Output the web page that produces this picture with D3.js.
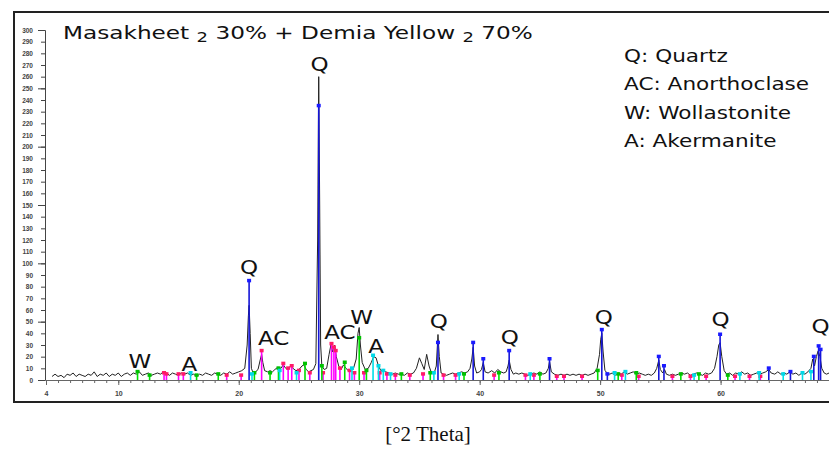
<!DOCTYPE html>
<html>
<head>
<meta charset="utf-8">
<script src="https://cdn.jsdelivr.net/npm/d3@7"></script>
<style>
  html, body { margin: 0; padding: 0; background: #fff; }
</style>
</head>
<body>
<div id="chart"></div>
<script>
// measured profile: [°2θ, counts]
const profile = [
  [4.5,3],[4.75,5],[5,3],[5.25,4],[5.5,2],[5.75,5],[6,4],[6.25,6],[6.5,3],[6.75,5],
  [7,4],[7.25,3],[7.5,5],[7.75,4],[8,7],[8.25,3],[8.5,5],[8.75,4],[9,6],[9.25,3],
  [9.5,5],[9.75,4],[10,6],[10.25,3],[10.5,5],[10.75,6],[11,4],[11.25,6],[11.5,5],[11.75,7],
  [12,4],[12.25,5],[12.5,6],[12.75,4],[13,5],[13.25,6],[13.5,5],[13.75,7],[14,6],[14.25,4],
  [14.5,6],[14.75,5],[15,4],[15.25,6],[15.5,5],[15.75,6],[16,4],[16.25,5],[16.5,3],[16.75,5],
  [17,4],[17.25,6],[17.5,5],[17.75,4],[18,6],[18.25,5],[18.5,4],[18.75,6],[19,5],[19.25,7],
  [19.5,5],[19.75,6],[20,7],[20.25,8],[20.5,10],[20.7,30],[20.8,55],[20.86,64],[20.95,40],[21.05,10],
  [21.2,6],[21.4,7],[21.6,9],[21.8,18],[21.9,22],[22,15],[22.15,8],[22.4,7],[22.6,8],[22.8,7],
  [23,9],[23.25,11],[23.5,10],[23.7,13],[23.9,10],[24.1,9],[24.3,12],[24.5,10],[24.75,8],[25,9],
  [25.25,12],[25.4,13],[25.6,9],[25.8,7],[26,8],[26.2,9],[26.4,14],[26.55,120],[26.64,260],[26.72,150],
  [26.8,30],[26.9,12],[27.1,9],[27.3,10],[27.5,22],[27.65,30],[27.8,24],[27.95,30],[28.1,20],[28.3,12],
  [28.5,9],[28.7,13],[28.9,10],[29.1,8],[29.3,10],[29.5,9],[29.75,18],[29.9,40],[30,45],[30.1,30],
  [30.25,15],[30.5,9],[30.75,10],[31,15],[31.2,20],[31.4,19],[31.6,12],[31.8,8],[32,9],[32.2,7],
  [32.5,6],[32.75,5],[33,6],[33.25,5],[33.5,5],[33.75,4],[34,6],[34.25,5],[34.5,6],[34.75,10],
  [35,19],[35.2,14],[35.4,9],[35.6,22],[35.8,12],[36,6],[36.2,5],[36.4,12],[36.54,39],[36.65,20],
  [36.8,6],[37,5],[37.25,4],[37.5,5],[37.75,6],[38,5],[38.25,6],[38.5,7],[38.75,6],[39,7],
  [39.2,10],[39.35,18],[39.46,28],[39.58,12],[39.75,6],[40,7],[40.15,9],[40.3,15],[40.45,7],[40.7,6],
  [41,8],[41.25,6],[41.5,9],[41.75,7],[42,6],[42.2,7],[42.35,12],[42.45,17],[42.6,9],[42.8,5],
  [43,6],[43.25,5],[43.5,6],[43.75,5],[44,4],[44.25,5],[44.5,6],[44.75,5],[45,7],[45.25,5],
  [45.5,6],[45.7,10],[45.8,16],[45.95,7],[46.2,5],[46.5,4],[46.75,5],[47,4],[47.25,5],[47.5,4],
  [47.75,5],[48,4],[48.25,5],[48.5,4],[48.75,5],[49,4],[49.25,5],[49.5,6],[49.75,10],[49.95,22],
  [50.05,35],[50.14,40],[50.25,24],[50.4,8],[50.6,6],[50.8,5],[51,6],[51.25,4],[51.5,6],[51.75,5],
  [52,7],[52.25,5],[52.5,6],[52.75,7],[53,5],[53.25,6],[53.5,5],[53.75,4],[54,5],[54.25,4],
  [54.5,6],[54.7,10],[54.87,17],[55,9],[55.2,6],[55.35,9],[55.5,5],[55.75,4],[56,5],[56.25,4],
  [56.5,5],[56.75,6],[57,5],[57.25,6],[57.5,4],[57.75,5],[58,6],[58.25,5],[58.5,4],[58.75,6],
  [59,5],[59.25,6],[59.5,10],[59.7,20],[59.85,30],[59.96,32],[60.1,20],[60.3,8],[60.5,5],[60.75,6],
  [61,4],[61.25,6],[61.5,5],[61.75,7],[62,5],[62.25,6],[62.5,4],[62.75,5],[63,6],[63.25,5],
  [63.5,6],[63.75,7],[64,9],[64.2,6],[64.5,5],[64.75,7],[65,5],[65.25,6],[65.5,5],[65.75,7],
  [66,5],[66.25,6],[66.5,4],[66.75,6],[67,5],[67.25,7],[67.5,10],[67.65,18],[67.8,12],[67.95,20],
  [68.1,25],[68.25,20],[68.4,10],[68.6,6],[68.8,5],[69,6]
];

// reference sticks per phase: [°2θ, counts]
const quartzSticks = [
  [20.86,85],[26.64,235],[36.54,32],[39.46,32],[40.3,18],[42.45,25],[45.8,18],[50.14,43],
  [50.6,5],[54.87,20],[55.3,12],[59.96,39],[64.0,10],[65.8,7],[67.74,20],[68.14,29],[68.3,26]
];
const anorthoclaseSticks = [
  [13.8,6],[14.0,5],[15.0,5],[15.4,5],[19.0,4],[20.2,4],[21.9,25],[23.7,14],[24.1,10],[24.4,12],
  [25.0,8],[25.9,6],[27.0,6],[27.7,31],[27.9,28],[28.05,25],[28.4,10],[29.2,8],[29.6,6],[30.4,6],
  [31.7,6],[32.3,5],[33.0,4],[34.2,4],[35.3,5],[37.0,4],[38.0,4],[41.2,4],[43.8,4],[44.5,4],
  [46.4,3],[47.0,3],[48.5,3],[51.8,4],[53.2,3],[56.0,3],[57.5,3],[58.8,3],[61.2,3],[62.4,3],[63.3,3]
];
const wollastoniteSticks = [
  [11.6,7],[12.6,4],[16.5,4],[18.3,5],[21.3,6],[22.6,6],[23.3,10],[25.5,14],[26.9,12],[28.8,15],
  [30.0,36],[30.6,8],[33.5,5],[35.9,6],[38.7,5],[41.6,6],[45.0,5],[49.8,8],[51.5,5],[53.0,6],
  [56.7,5],[58.2,5],[60.6,4]
];
const akermaniteSticks = [
  [16.0,6],[21.1,5],[23.4,8],[24.8,6],[29.4,10],[31.15,21],[31.6,12],[32.0,8],[32.6,5],[36.2,6],
  [38.3,5],[44.2,5],[51.2,6],[52.1,7],[57.8,4],[61.6,5],[63.2,6],[65.2,5],[66.8,6],[67.5,7]
];

// peak labels: [text, °2θ, counts at baseline of text]
const peakLabels = [
  ["W",11.8,10],["A",15.9,8],["Q",20.85,91],["AC",22.9,30],["Q",26.7,265],
  ["AC",28.4,35],["W",30.2,48],["A",31.4,23],["Q",36.6,45],["Q",42.5,31],
  ["Q",50.3,48],["Q",60.0,46],["Q",68.3,40]
];

const legendLines = ["Q: Quartz", "AC: Anorthoclase", "W: Wollastonite", "A: Akermanite"];
const xTickLabels = [4, 10, 20, 30, 40, 50, 60];

const width = 829, height = 449;
const svg = d3.select("#chart").append("svg")
  .attr("width", width).attr("height", height)
  .style("font-family", "'DejaVu Sans', Verdana, sans-serif");

const x = d3.scaleLinear().domain([4, 69]).range([46, 829]);
const y = d3.scaleLinear().domain([0, 300]).range([380, 30]);

// frame
svg.append("rect")
  .attr("x", 14).attr("y", 12)
  .attr("width", 840).attr("height", 390)
  .attr("fill", "none").attr("stroke", "#222").attr("stroke-width", 2);

// y axis
svg.append("g")
  .attr("transform", `translate(45,0)`)
  .call(d3.axisLeft(y).tickValues(d3.range(0, 301, 10)).tickSize(4).tickPadding(8))
  .call(g => g.select(".domain").attr("stroke", "#444"))
  .call(g => g.selectAll(".tick line").attr("stroke", "#444"))
  .call(g => g.selectAll("text")
    .style("font-family", "'Liberation Sans', Arial, sans-serif")
    .style("font-size", "6.5px").style("font-weight", "bold").attr("fill", "#444"));

svg.append("g")
  .attr("transform", `translate(45,0)`)
  .call(d3.axisLeft(y).tickValues(d3.range(0, 301, 50)).tickSize(7).tickFormat(""))
  .call(g => g.select(".domain").remove())
  .call(g => g.selectAll(".tick line").attr("stroke", "#444"));

// x axis
svg.append("g")
  .attr("transform", `translate(0,380)`)
  .call(d3.axisBottom(x).tickValues(d3.range(4, 69, 1)).tickSize(3).tickFormat(""))
  .call(g => g.select(".domain").attr("stroke", "#666"))
  .call(g => g.selectAll(".tick line").attr("stroke", "#666"));

svg.append("g")
  .attr("transform", `translate(0,380)`)
  .call(d3.axisBottom(x).tickValues(xTickLabels).tickSize(5).tickPadding(6))
  .call(g => g.select(".domain").remove())
  .call(g => g.selectAll(".tick line").attr("stroke", "#666"))
  .call(g => g.selectAll("text")
    .style("font-family", "'Liberation Sans', Arial, sans-serif")
    .style("font-size", "7px").style("font-weight", "bold").attr("fill", "#444"));

// measured pattern
svg.append("path")
  .datum(profile)
  .attr("fill", "none")
  .attr("stroke", "#222")
  .attr("stroke-width", 1)
  .attr("d", d3.line().x(d => x(d[0])).y(d => y(d[1])));

// phase sticks
const phases = [
  { data: anorthoclaseSticks, color: "#ff00ff", dot: "#ff1a66" },
  { data: wollastoniteSticks, color: "#00e000", dot: "#00c000" },
  { data: akermaniteSticks,   color: "#00e0e8", dot: "#00d8e8" },
  { data: quartzSticks,       color: "#1515d8", dot: "#1a1aff" }
];

phases.forEach(p => {
  const g = svg.append("g");
  g.selectAll("line")
    .data(p.data)
    .join("line")
      .attr("x1", d => x(d[0])).attr("x2", d => x(d[0]))
      .attr("y1", y(0)).attr("y2", d => y(d[1]))
      .attr("stroke", p.color)
      .attr("stroke-width", 1.6);
  g.selectAll("rect")
    .data(p.data)
    .join("rect")
      .attr("x", d => x(d[0]) - 2)
      .attr("y", d => y(d[1]) - 2)
      .attr("width", 4).attr("height", 3.5)
      .attr("fill", p.dot);
});

// peak labels (scan is stretched horizontally)
svg.append("g")
  .selectAll("text")
  .data(peakLabels)
  .join("text")
    .attr("transform", d => `translate(${x(d[1])},${y(d[2])}) scale(1.15,1)`)
    .attr("text-anchor", "middle")
    .style("font-size", "20px")
    .attr("fill", "#111")
    .text(d => d[0]);

// title
const title = svg.append("text")
  .style("font-size", "18px")
  .attr("fill", "#111");
title.append("tspan").text("Masakheet ");
title.append("tspan").attr("dy", 3).style("font-size", "14px").text("2");
title.append("tspan").attr("dy", -3).text(" 30% + Demia Yellow ");
title.append("tspan").attr("dy", 3).style("font-size", "14px").text("2");
title.append("tspan").attr("dy", -3).text(" 70%");
const tw = title.node().getBBox().width;
title.attr("transform", `translate(63,39) scale(${470 / tw},1)`);

// legend
svg.append("g")
  .selectAll("text")
  .data(legendLines)
  .join("text")
    .attr("transform", (d, i) => `translate(624,${62 + i * 28.3}) scale(1.2,1)`)
    .style("font-size", "18px")
    .attr("fill", "#111")
    .text(d => d);

// x axis title
svg.append("text")
  .attr("x", 428).attr("y", 441)
  .attr("text-anchor", "middle")
  .style("font-family", "'Liberation Serif', 'Times New Roman', serif")
  .style("font-size", "21px")
  .attr("fill", "#111")
  .text("[°2 Theta]");
</script>
</body>
</html>
